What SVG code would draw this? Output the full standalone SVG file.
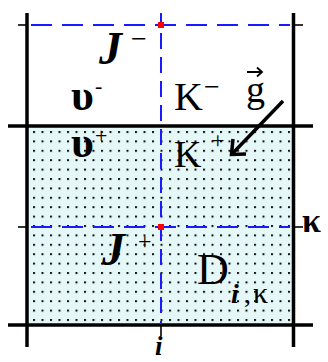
<svg xmlns="http://www.w3.org/2000/svg" width="328" height="362" viewBox="0 0 328 362">
<defs>
<style>
.frame{stroke:#000;stroke-width:3.5;fill:none}
.tick{stroke:#000;stroke-width:1.6;fill:none}
.dash{stroke:#1a1aff;stroke-width:2;fill:none}
.t{font-family:"Liberation Serif","DejaVu Serif",serif;fill:#000}
.it{font-style:italic;font-weight:bold}
.red{fill:#ff0000}
</style>
<pattern id="dots" x="33" y="131" width="8.5" height="9.4" patternUnits="userSpaceOnUse">
<rect x="0" y="0" width="2" height="2" fill="#111"/>
</pattern>
</defs>
<rect width="328" height="362" fill="#fff"/>
<g id="region-D">
<rect x="27" y="126" width="267" height="199" fill="#e6f7f7"/>
<rect x="27" y="126" width="267" height="199" fill="url(#dots)"/>
</g>
<g id="grid">
<line class="frame" x1="27" y1="13" x2="27" y2="347"/>
<line class="frame" x1="293.5" y1="13" x2="293.5" y2="347"/>
<line class="frame" x1="8" y1="126" x2="313" y2="126"/>
<line class="frame" x1="8" y1="325" x2="313" y2="325"/>
<line class="tick" x1="18" y1="25" x2="27" y2="25"/>
<line class="tick" x1="294" y1="25" x2="303" y2="25"/>
<line class="tick" x1="18" y1="227" x2="27" y2="227"/>
<line class="tick" x1="294" y1="227" x2="303" y2="227"/>
<line class="tick" x1="161" y1="326" x2="161" y2="336"/>
</g>
<g id="connectors">
<line class="dash" x1="31" y1="25" x2="290" y2="25" stroke-dasharray="21 10"/>
<line class="dash" x1="31" y1="227" x2="290" y2="227" stroke-dasharray="21 10"/>
<line class="dash" x1="161" y1="13" x2="161" y2="323" stroke-dasharray="16 8" stroke-dashoffset="4"/>
<path d="M283 101 L233 153" stroke="#000" stroke-width="3.5" fill="none"/>
<path d="M233 139 L231.5 154.5 L246 154" stroke="#000" stroke-width="3.5" fill="none"/>
</g>
<g id="points">
<rect class="red" x="158" y="22" width="6" height="6"/>
<rect class="red" x="158" y="224" width="6" height="6"/>
</g>
<g id="labels">
<text class="t it" x="99" y="64" font-size="46">J</text>
<text class="t" x="131" y="48" font-size="28">−</text>
<text class="t" x="71" y="110" font-size="44" font-weight="bold">υ</text>
<text class="t" x="95" y="93" font-size="22">-</text>
<text class="t" x="174" y="110" font-size="40">K</text>
<text class="t" x="204" y="96" font-size="28">−</text>
<text class="t" x="246" y="102" font-size="38">g</text>
<path d="M247 72 L262 72 M257 67.5 L262 72 L257 76.5" stroke="#000" stroke-width="1.8" fill="none"/>
<text class="t" x="71" y="157" font-size="44" font-weight="bold">υ</text>
<text class="t" x="95" y="143" font-size="22">+</text>
<text class="t" x="174" y="167" font-size="38">K</text>
<text class="t" x="211" y="148" font-size="24">+</text>
<text class="t it" x="102" y="265" font-size="46">J</text>
<text class="t" x="138" y="249" font-size="24">+</text>
<text class="t" x="197" y="284" font-size="44">D</text>
<text class="t it" x="231" y="303" font-size="28">i</text>
<text class="t" x="244" y="303" font-size="28">,</text>
<text class="t" x="253" y="303" font-size="30">κ</text>
<text class="t" x="302" y="232" font-size="34" font-weight="bold">κ</text>
<text class="t it" x="155" y="355" font-size="27">i</text>
</g>
</svg>
